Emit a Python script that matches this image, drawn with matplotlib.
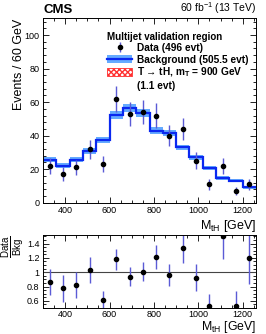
import numpy as np
import matplotlib
matplotlib.use("Agg")
import matplotlib.pyplot as plt
from matplotlib.patches import Patch
from matplotlib.lines import Line2D
from matplotlib.ticker import MultipleLocator, FormatStrFormatter

plt.rcParams['font.family'] = ['Liberation Sans', 'DejaVu Sans']
plt.rcParams['mathtext.fontset'] = 'custom'
plt.rcParams['mathtext.rm'] = 'Liberation Sans'
plt.rcParams['mathtext.it'] = 'Liberation Sans:italic'
plt.rcParams['mathtext.bf'] = 'Liberation Sans:bold'

## data
edges = np.arange(300, 1261, 60)
centers = edges[:-1] + 30
bkg = [25.5, 22.0, 25.5, 31.0, 37.5, 52.5, 56.5, 53.5, 43.0, 41.5, 33.0, 27.0, 20.6, 14.6, 13.2, 9.2]
bkg_unc = [1.5, 1.4, 1.5, 1.7, 1.9, 2.3, 2.5, 2.3, 2.0, 2.0, 1.7, 1.5, 1.3, 1.2, 1.1, 1.0]
data = [22, 17, 21, 32, 23, 62, 53, 54, 52, 40, 44, 25, 11, 22, 7, 11]

bkg = np.array(bkg)
bkg_unc = np.array(bkg_unc)
data = np.array(data)
data_err = np.sqrt(data)
ratio = data / bkg
ratio_err = data_err / bkg

err_col = '#5b5bd6'
band_col = '#4a9cff'
line_col = '#0a28f0'

fig = plt.figure(figsize=(2.66, 3.34), dpi=100)
ax = fig.add_axes([43/266, 1-202.7/334, 213/266, 184.4/334])
rax = fig.add_axes([43/266, 1-308/334, 213/266, 73/334])

## main panel
ax.fill_between(edges, np.append(bkg - bkg_unc, bkg[-1] - bkg_unc[-1]),
                np.append(bkg + bkg_unc, bkg[-1] + bkg_unc[-1]),
                step='post', color=band_col, lw=0, alpha=0.85)
ax.stairs(bkg, edges, color=line_col, lw=1.6, baseline=None)
dat = ax.errorbar(centers, data, yerr=data_err, fmt='o', color='black', ms=3.0,
                  ecolor=err_col, elinewidth=1.0, capsize=0)

ax.set_xlim(300, 1260)
ax.set_ylim(0, 110)

band_h = (Patch(facecolor=band_col, edgecolor='none', alpha=0.85),
          Line2D([], [], color=line_col, lw=1.6))
sig_h = Patch(facecolor='white', edgecolor='#ff3030', hatch='xxxxxx', lw=0.6)
empty_h = Patch(visible=False)
leg = ax.legend([dat, band_h, sig_h, empty_h],
                ['Data (496 evt)', 'Background (505.5 evt)',
                 'T → tH, m$_\\mathbf{T}$ = 900 GeV', '(1.1 evt)'],
                title='Multijet validation region', alignment='left',
                loc='upper left', bbox_to_anchor=(0.30, 0.925), frameon=False,
                prop={'weight': 'bold', 'size': 7.3},
                title_fontproperties={'weight': 'bold', 'size': 7},
                borderpad=0, borderaxespad=0, handlelength=2.5, handleheight=0.95,
                handletextpad=0.5, labelspacing=0.12)

ax.set_ylabel('Events / 60 GeV', fontsize=9, loc='top')
ax.yaxis.set_label_coords(-0.085, 1.0)
ax.set_xlabel('M$_\\mathrm{tH}$ [GeV]', fontsize=9, loc='right')
ax.xaxis.set_label_coords(1.0, -0.085)

ax.text(0.0, 1.015, 'CMS', transform=ax.transAxes, fontsize=9.5, fontweight='bold',
        ha='left', va='bottom')
ax.text(1.0, 1.015, '60 fb$^{-1}$ (13 TeV)', transform=ax.transAxes, fontsize=7.5,
        ha='right', va='bottom')

## ratio panel
rax.axhline(1.0, color='#444444', lw=0.8)
rax.errorbar(centers, ratio, yerr=ratio_err, fmt='o', color='black', ms=3.0,
             ecolor=err_col, elinewidth=1.0, capsize=0)
rax.set_xlim(300, 1260)
rax.set_ylim(0.5, 1.52)
rax.set_ylabel(r'$\frac{\mathrm{Data}}{\mathrm{Bkg}}$', fontsize=10, loc='top')
rax.yaxis.set_label_coords(-0.08, 1.0)
rax.set_xlabel('M$_\\mathrm{tH}$ [GeV]', fontsize=8.8, loc='right')
rax.xaxis.set_label_coords(1.0, -0.155)

for a in (ax, rax):
    a.xaxis.set_major_locator(MultipleLocator(200))
    a.xaxis.set_minor_locator(MultipleLocator(50))
    a.tick_params(which='both', direction='in', top=True, right=True, labelsize=6.5, pad=2.5)
    a.tick_params(which='major', length=4.5, width=0.6)
    a.tick_params(which='minor', length=2.3, width=0.6)
    for s in a.spines.values():
        s.set_linewidth(0.7)
rax.tick_params(axis='x', which='both', pad=1.5)

ax.yaxis.set_major_locator(MultipleLocator(20))
ax.yaxis.set_minor_locator(MultipleLocator(4))
rax.yaxis.set_major_locator(MultipleLocator(0.2))
rax.yaxis.set_minor_locator(MultipleLocator(0.05))
rax.yaxis.set_major_formatter(FormatStrFormatter('%g'))

fig.savefig('out.png', dpi=100)
